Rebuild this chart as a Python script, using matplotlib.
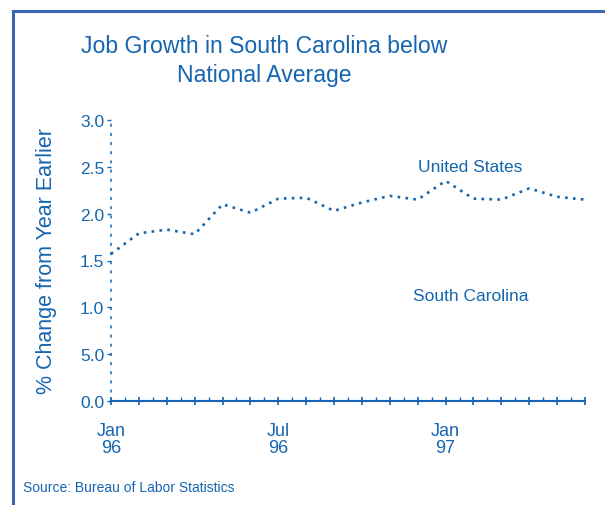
import numpy as np
import matplotlib.pyplot as plt
from matplotlib.lines import Line2D

plt.rcParams['font.family'] = ['Liberation Sans', 'DejaVu Sans']

# months from Jan 96 to Jun 97
months = np.arange(18)
us_growth = [1.57, 1.79, 1.83, 1.78, 2.10, 2.01, 2.16, 2.17, 2.03,
             2.12, 2.19, 2.15, 2.35, 2.16, 2.15, 2.27, 2.18, 2.15]
ytick_vals = [0.0, 0.5, 1.0, 1.5, 2.0, 2.5, 3.0]
ytick_labels = ["0.0", "5.0", "1.0", "1.5", "2.0", "2.5", "3.0"]
xtick_pos = [0, 6, 12]
xtick_labels = ["Jan\n96", "Jul\n96", "Jan\n97"]

blue = '#1565b0'
frame_blue = '#3a66b4'

fig = plt.figure(figsize=(6.05, 5.06), dpi=100)
ax = fig.add_axes([111/605, 1-402/506, (585-111)/605, (402-121)/506])

ax.plot(months, us_growth, color=blue, lw=1.9, linestyle=(0, (1, 2.0)),
        dash_capstyle='butt', clip_on=False)

ax.set_xlim(0, 17)
ax.set_ylim(0, 3)

for s in ['top', 'right']:
    ax.spines[s].set_visible(False)
ax.spines['left'].set_color(blue)
ax.spines['left'].set_linestyle((0, (1, 5)))
ax.spines['left'].set_linewidth(1.1)
ax.spines['bottom'].set_color(blue)
ax.spines['bottom'].set_linewidth(1.5)

ax.set_yticks(ytick_vals)
ax.set_yticklabels(ytick_labels)
ax.set_xticks(months, minor=False)
ax.set_xticklabels([xtick_labels[xtick_pos.index(m)] if m in xtick_pos else "" for m in months])
ax.set_xticks(np.arange(0.5, 17, 1), minor=True)

ax.tick_params(axis='y', colors=blue, labelsize=12.5, length=3, width=1, direction='out', pad=2)
ax.tick_params(axis='x', which='major', colors=blue, labelsize=13, length=6, width=1.2,
               direction='inout', pad=12)
ax.tick_params(axis='x', which='minor', colors=blue, length=3, width=1, direction='in')
for lbl in ax.get_xticklabels():
    lbl.set_linespacing(1.0)

ax.set_ylabel("% Change from Year Earlier", color=blue, fontsize=15.5, labelpad=16)

ax.text(12.9, 2.50, "United States", color=blue, fontsize=12.5, ha='center', va='center')
ax.text(12.9, 1.13, "South Carolina", color=blue, fontsize=12.5, ha='center', va='center')

fig.text(264/605, 1-61/506, "Job Growth in South Carolina below\nNational Average",
         color=blue, fontsize=16.6, ha='center', va='center', linespacing=1.35)
fig.text(23/605, 1-488/506, "Source: Bureau of Labor Statistics", color=blue,
         fontsize=10, ha='left', va='center')

# frame lines on left and top
fig.add_artist(Line2D([12.5/605, 12.5/605], [0, 1-12/506], color=frame_blue, lw=2.2,
                      transform=fig.transFigure))
fig.add_artist(Line2D([12.5/605, 1], [1-12/506, 1-12/506], color=frame_blue, lw=2.2,
                      transform=fig.transFigure, solid_capstyle='projecting'))

fig.savefig("out.png", dpi=100)
